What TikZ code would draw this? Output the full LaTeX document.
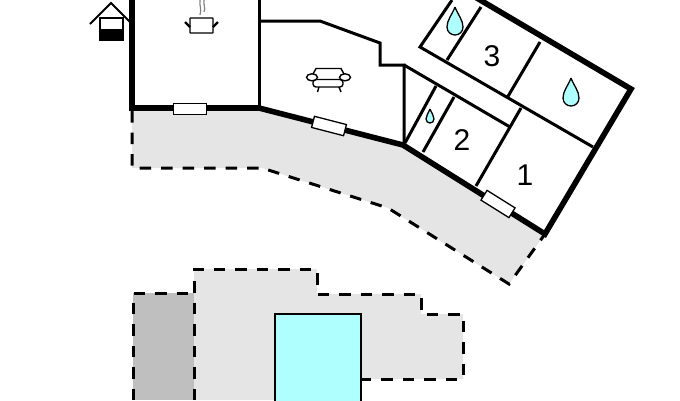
\documentclass[tikz,border=0pt]{standalone}
\usepackage{fontspec}
\setmainfont{Liberation Sans}
\definecolor{terrace}{HTML}{E5E5E5}
\definecolor{shed}{HTML}{BFBFBF}
\definecolor{poolblue}{HTML}{AFFFFF}
\tikzset{
	outerwall/.style={line width=5.6pt,line join=miter},
	innerwall/.style={line width=3pt,line join=miter},
	boundary/.style={line width=3pt,dash pattern=on 11.5pt off 10pt},
	pane/.style={draw,fill=white,line width=1.3pt,minimum width=33pt,minimum height=11.5pt,inner sep=0pt},
	roomnum/.style={font=\fontsize{30}{30}\selectfont,inner sep=0pt},
	icon/.style={line width=1.4pt}
}
\newcommand{\waterdrop}[3]{
	\draw[fill=poolblue,line width=1.3pt,shift={(#1,#2)},scale=#3] (0,0) .. controls (3,8) and (8,13) .. (8,20) .. controls (8,25) and (4,28) .. (0,28) .. controls (-4,28) and (-8,25) .. (-8,20) .. controls (-8,13) and (-3,8) .. (0,0);
}
\begin{document}
\begin{tikzpicture}[x=1pt,y=-1pt]
	\useasboundingbox (0,0) rectangle (680,400);
	\clip (0,0) rectangle (680,400);
	% terrace
	\fill[terrace] (132,108) -- (259,108) -- (403,145) -- (545,234) -- (509,284) -- (388,208) -- (262,168) -- (132,168) -- cycle;
	\draw[boundary] (132,111) -- (132,168) -- (262,168) -- (388,208) -- (509,284) -- (545,234);
	% garden
	\fill[shed] (133,293) rectangle (194,400);
	\fill[terrace] (194,269) -- (317,269) -- (317,294) -- (421,294) -- (421,314) -- (463,314) -- (463,379) -- (361,379) -- (361,400) -- (194,400) -- cycle;
	\draw[boundary] (133,400) -- (133,293) -- (194,293);
	\draw[boundary] (194,400) -- (194,269) -- (317,269) -- (317,294) -- (421,294) -- (421,314) -- (463,314) -- (463,379) -- (361,379);
	\draw[fill=poolblue,line width=2pt] (275,314) rectangle (361,405);
	% walls
	\draw[innerwall] (259,0) -- (259,108);
	\draw[innerwall] (259,21) -- (320,21) -- (380,43) -- (380,65) -- (404,65) -- (404,145);
	\draw[innerwall] (404,65) -- (510,127);
	\draw[innerwall] (405,143) -- (436,86);
	\draw[innerwall] (423,152) -- (454,97);
	\draw[innerwall] (476,186) -- (521,108);
	\draw[innerwall] (452,0) -- (420,47) -- (593,147);
	\draw[innerwall] (447,60) -- (481,7);
	\draw[innerwall] (507,98) -- (540,42);
	\draw[outerwall] (132,0) -- (132,108) -- (259,108) -- (403,145) -- (545,234) -- (631,89) -- (470,-6);
	% windows
	\node[pane] (winA) at (190,109) {};
	\node[pane,rotate=-14.5] (winB) at (329,126) {};
	\node[pane,rotate=-32] (winC) at (498,204) {};
	% rooms
	\node[roomnum] (roomA) at (525,175) {1};
	\node[roomnum] (roomB) at (462,140) {2};
	\node[roomnum] (roomC) at (492,56) {3};
	\waterdrop{455}{7}{1}
	\waterdrop{571}{78}{1}
	\waterdrop{430}{109}{0.5}
	% well
	\draw[fill=white,line width=1.6pt] (100,18) rectangle (123,40);
	\fill (99,29) rectangle (124,40.5);
	\draw[line width=2pt] (90,24) -- (111,3) -- (131,23);
	% pot
	\draw[icon,fill=white,rounded corners=0.5pt] (190,18) rectangle (213,33);
	\draw[line width=2.2pt] (185,22) -- (190,27) (218,22) -- (213,27);
	\draw[gray,line width=1.2pt] (200,0) .. controls (199,5) and (202,9) .. (200,15);
	\draw[gray,line width=1.2pt] (204,0) .. controls (203,4) and (206,8) .. (204,12);
	% sofa
	\draw[icon] (313,74) -- (316,68.5) -- (341,68.5) -- (344,74);
	\draw[icon,rounded corners=3pt] (313,79.5) rectangle (343,87);
	\draw[icon,fill=white] (312,77.3) ellipse (5.5 and 3.5);
	\draw[icon,fill=white] (345,77.3) ellipse (5.5 and 3.5);
	\draw[icon] (319,87) -- (317.5,92) (339,87) -- (341,92);
\end{tikzpicture}
\end{document}
